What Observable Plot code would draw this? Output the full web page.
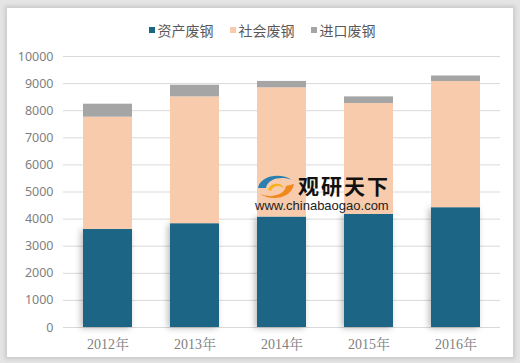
<!DOCTYPE html>
<html><head><meta charset="utf-8">
<script src="https://cdn.jsdelivr.net/npm/d3@7"></script>
<script src="https://cdn.jsdelivr.net/npm/@observablehq/plot@0.6"></script>
<style>
html,body{margin:0;padding:0;background:#fff;}
#wrap{position:relative;width:520px;height:363px;overflow:hidden;background:#e4e4e4;}
#panel{position:absolute;left:7px;top:8px;width:506px;height:349px;background:#fff;box-shadow:0 0 4px 2px rgba(0,0,0,0.12);}
#chart{position:absolute;left:0;top:0;}
#legend{position:absolute;left:0;top:20px;width:524px;display:flex;justify-content:center;font:14px "Noto Sans CJK SC",sans-serif;color:#595959;}
#legend span.item{display:flex;align-items:center;margin:0 8px;}
#legend span.sw{display:inline-block;width:6px;height:6px;margin-right:3px;}
#wm{position:absolute;left:252px;top:170px;}
#wm .t{position:absolute;left:46px;top:2px;font:bold 21px "Noto Sans CJK SC",sans-serif;letter-spacing:2px;color:#111;white-space:nowrap;line-height:26px;}
#wm .u{position:absolute;left:3px;top:28px;font:13px "Liberation Sans",Arial,sans-serif;color:#222;white-space:nowrap;}
.blue rect{filter:drop-shadow(-2px 1px 3px rgba(0,0,0,0.28));}
</style></head>
<body>
<div id="wrap">
  <div id="panel"></div>
  <div id="chart"></div>
  <div id="legend"></div>
  <div id="wm">
    <svg width="44" height="30" style="position:absolute;left:2px;top:2px">
      <path d="M4,16 C6,4 26,0 38,8 C28,4 14,6 12,16 Z" fill="#2a7fb0"/>
      <path d="M40,12 C38,26 18,30 6,22 C16,26 30,24 32,14 Z" fill="#f08a1c"/>
      <path d="M14,18 C16,10 28,10 30,16 C26,13 19,13 17,19 Z" fill="#f5b21e"/>
    </svg>
    <div class="t">观研天下</div>
    <div class="u">www.chinabaogao.com</div>
  </div>
</div>
<script>
const years = ["2012年","2013年","2014年","2015年","2016年"];
const seriesNames = ["资产废钢","社会废钢","进口废钢"];
const colors = ["#1d6585","#f8cbad","#a5a5a5"];
const asset = [3620, 3830, 4075, 4175, 4420];
const social = [4140, 4680, 4770, 4090, 4655];
const imported = [480, 430, 235, 245, 205];
const yTicks = [0,1000,2000,3000,4000,5000,6000,7000,8000,9000,10000];

const rows = [];
years.forEach((y,i)=>{
  rows.push({year:y, type:seriesNames[0], value:asset[i]});
  rows.push({year:y, type:seriesNames[1], value:social[i]});
  rows.push({year:y, type:seriesNames[2], value:imported[i]});
});

const chart = Plot.plot({
  width:520, height:363,
  marginLeft:63, marginRight:20, marginTop:56, marginBottom:36,
  style:{background:"transparent", overflow:"visible"},
  x:{domain:years, paddingInner:0.44, paddingOuter:0.22, label:null},
  y:{domain:[0,10000], label:null},
  color:{domain:seriesNames, range:colors},
  marks:[
    Plot.gridY(yTicks,{stroke:"#d9d9d9", strokeOpacity:1, strokeWidth:1}),
    Plot.barY(rows,{x:"year", y:"value", z:"type", fill:"type", className:"bars",
      render:(index, scales, values, dims, ctx, next)=>{
        const g = next(index, scales, values, dims, ctx);
        d3.select(g).selectAll("rect").filter((d,i)=>rows[index[i]].type===seriesNames[0])
          .style("filter","drop-shadow(-2px 1px 3px rgba(0,0,0,0.28))");
        return g;
      }}),
    Plot.axisY(yTicks,{tickSize:0, tickPadding:10, fontSize:12.5, fill:"#7f7f7f", fontFamily:"Noto Sans, sans-serif", tickFormat:d=>String(d)}),
    Plot.axisX({tickSize:0, tickPadding:12, fontSize:14, fill:"#7f7f7f", fontFamily:"Liberation Serif, Noto Serif CJK SC, serif"})
  ]
});
document.getElementById("chart").appendChild(chart);

const lg = document.getElementById("legend");
seriesNames.forEach((n,i)=>{
  const it = document.createElement("span"); it.className="item";
  const sw = document.createElement("span"); sw.className="sw"; sw.style.background=colors[i];
  it.appendChild(sw); it.appendChild(document.createTextNode(n));
  lg.appendChild(it);
});
</script>
</body></html>
